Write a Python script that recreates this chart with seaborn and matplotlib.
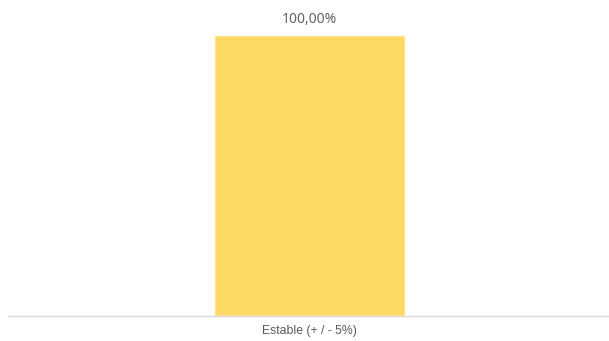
import matplotlib
matplotlib.use("Agg")
import matplotlib.pyplot as plt
import seaborn as sns
import pandas as pd

categories = ["Estable (+ / - 5%)"]
values = [100.0]
value_labels = ["100,00%"]

df = pd.DataFrame({"cat": categories, "val": values})

sns.set_theme(style="white")
plt.rcParams['font.family'] = ['Liberation Sans', 'DejaVu Sans']

fig = plt.figure(figsize=(6.09, 3.41), dpi=100)
ax = fig.add_axes([8/609, (341-315.5)/341, 600/609, (315.5-35)/341])

sns.barplot(data=df, x="cat", y="val", color="#FFD966", saturation=1, width=0.318, ax=ax)
ax.set_ylim(0, 100)
ax.set_xlim(-0.5025, 0.4975)

for p, lab in zip(ax.patches, value_labels):
    ax.annotate(lab, (p.get_x() + p.get_width() / 2, p.get_height()),
                xytext=(0, 5.5), textcoords="offset points", ha="center", va="bottom",
                fontsize=10, color="#595959", family=["Open Sans", "DejaVu Sans"],
                annotation_clip=False)

for s in ["top", "right", "left"]:
    ax.spines[s].set_visible(False)
ax.spines["bottom"].set_color("#D9D9D9")
ax.spines["bottom"].set_linewidth(1)
ax.set_yticks([])
ax.set_xlabel("")
ax.set_ylabel("")
ax.tick_params(axis="x", length=0, pad=7, labelsize=8.8, labelcolor="#595959")

fig.savefig("out.png", dpi=100)
